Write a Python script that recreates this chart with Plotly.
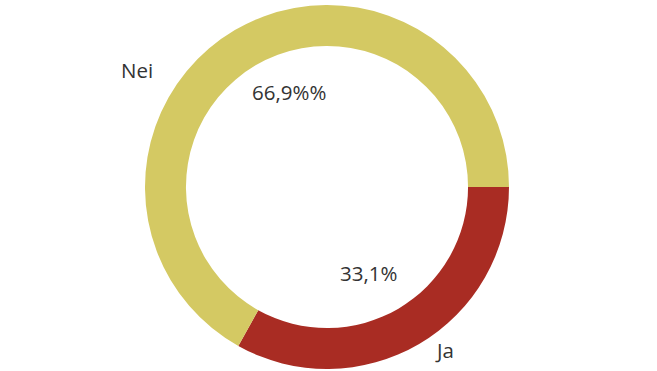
import plotly.graph_objects as go

# Survey answer split (percent)
categories = ["Ja", "Nei"]
values = [33.1, 66.9]
value_labels = ["33,1%", "66,9%%"]
colors = ["#A92C23", "#D4C963"]

W, H = 657, 371

fig = go.Figure(
    go.Pie(
        labels=categories,
        values=values,
        hole=0.775,
        sort=False,
        direction="clockwise",
        rotation=90,
        marker=dict(colors=colors, line=dict(width=0)),
        textinfo="none",
        hoverinfo="label+percent",
        showlegend=False,
    )
)

font = dict(family="Open Sans, Lato, sans-serif", size=20.5, color="#333333")

# label placement (paper coordinates, pixel positions converted)
name_pos = {"Ja": (446.7, 351.7), "Nei": (137.5, 66.7)}
value_pos = {"Ja": (370, 273), "Nei": (290.8, 88.3)}

annotations = []
for cat, vtxt in zip(categories, value_labels):
    for txt, (px, py) in ((cat, name_pos[cat]), (vtxt, value_pos[cat])):
        annotations.append(
            dict(
                text=txt,
                x=px / W,
                y=1 - py / H,
                xref="paper",
                yref="paper",
                xanchor="center",
                yanchor="middle",
                showarrow=False,
                font=font,
            )
        )

fig.update_layout(
    width=W,
    height=H,
    margin=dict(l=0, r=3, t=5, b=2),
    paper_bgcolor="white",
    plot_bgcolor="white",
    annotations=annotations,
)

fig.write_html("out.html")
